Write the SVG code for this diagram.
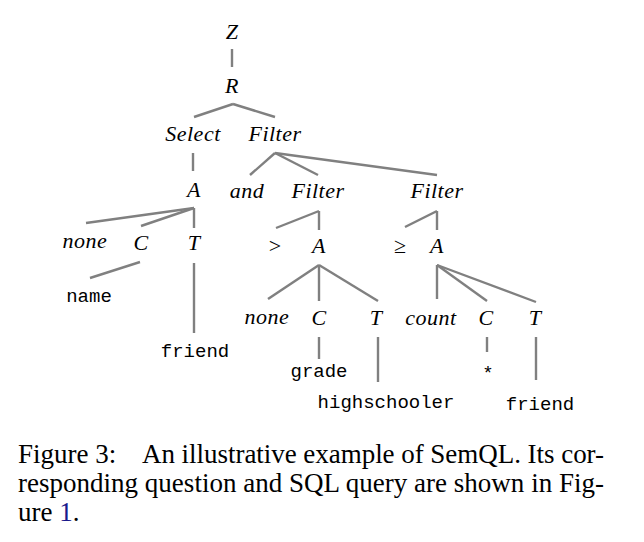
<svg xmlns="http://www.w3.org/2000/svg" width="644" height="542" viewBox="0 0 644 542">
<style>
.n{font-family:"Liberation Serif",serif;font-style:italic;font-size:22px;fill:#000;text-anchor:middle;letter-spacing:0.5px}
.m{font-family:"Liberation Mono",monospace;font-size:19px;fill:#000;text-anchor:middle}
.s{font-family:"Liberation Serif",serif;font-size:22px;fill:#000;text-anchor:middle}
.e line{stroke:#808080;stroke-width:2.4;fill:none}
.cap{font-family:"Liberation Serif",serif;font-size:27px;fill:#000}
</style>
<rect width="644" height="542" fill="#fff"/>
<g class="e" id="connectors">
<line x1="232" y1="49" x2="232" y2="67"/>
<line x1="233" y1="104" x2="194" y2="117"/>
<line x1="233" y1="104" x2="275" y2="117"/>
<line x1="193" y1="153" x2="193" y2="171"/>
<line x1="275" y1="153" x2="250" y2="175"/>
<line x1="275" y1="153" x2="318" y2="175"/>
<line x1="275" y1="153" x2="437" y2="175"/>
<line x1="194" y1="208" x2="86" y2="223"/>
<line x1="194" y1="208" x2="141" y2="226"/>
<line x1="194" y1="208" x2="194" y2="228"/>
<line x1="140" y1="262" x2="90" y2="278"/>
<line x1="194" y1="263" x2="194" y2="333"/>
<line x1="319" y1="211" x2="276" y2="228"/>
<line x1="319" y1="211" x2="319" y2="230"/>
<line x1="319" y1="265" x2="268" y2="299"/>
<line x1="319" y1="265" x2="319" y2="301"/>
<line x1="319" y1="265" x2="378" y2="301"/>
<line x1="319" y1="337" x2="319" y2="359"/>
<line x1="378" y1="337" x2="378" y2="382"/>
<line x1="437" y1="211" x2="405" y2="227"/>
<line x1="437" y1="211" x2="437" y2="230"/>
<line x1="437" y1="265" x2="437" y2="299"/>
<line x1="437" y1="265" x2="487" y2="301"/>
<line x1="437" y1="265" x2="536" y2="302"/>
<line x1="487" y1="337" x2="487" y2="352"/>
<line x1="536" y1="337" x2="536" y2="380"/>
</g>
<g id="Z"><text class="n" x="232" y="39">Z</text></g>
<g id="R"><text class="n" x="232" y="93">R</text></g>
<g id="Select"><text class="n" x="193" y="141">Select</text></g>
<g id="Filter1"><text class="n" x="275" y="141">Filter</text></g>
<g id="A1"><text class="n" x="194" y="197">A</text></g>
<g id="and"><text class="n" x="247" y="198">and</text></g>
<g id="Filter2"><text class="n" x="318" y="198">Filter</text></g>
<g id="Filter3"><text class="n" x="437" y="198">Filter</text></g>
<g id="none1"><text class="n" x="85" y="248">none</text></g>
<g id="C1"><text class="n" x="141" y="250">C</text></g>
<g id="T1"><text class="n" x="194" y="250">T</text></g>
<g id="name"><text class="m" x="89" y="302">name</text></g>
<g id="friend1"><text class="m" x="195" y="357">friend</text></g>
<g id="gt"><text class="s" x="275" y="253">&gt;</text></g>
<g id="A2"><text class="n" x="319" y="253">A</text></g>
<g id="ge"><text class="s" x="400" y="253">≥</text></g>
<g id="A3"><text class="n" x="437" y="253">A</text></g>
<g id="none2"><text class="n" x="267" y="324">none</text></g>
<g id="C2"><text class="n" x="319" y="325">C</text></g>
<g id="T2"><text class="n" x="376" y="325">T</text></g>
<g id="count"><text class="n" x="431" y="325">count</text></g>
<g id="C3"><text class="n" x="486" y="325">C</text></g>
<g id="T3"><text class="n" x="535" y="325">T</text></g>
<g id="grade"><text class="m" x="319" y="377">grade</text></g>
<g id="highschooler"><text class="m" x="386" y="408">highschooler</text></g>
<g id="star"><text class="m" x="488" y="379">*</text></g>
<g id="friend2"><text class="m" x="540" y="410">friend</text></g>
<g id="caption">
<text class="cap" x="18" y="463">Figure 3:</text>
<text class="cap" x="142" y="463" textLength="462" lengthAdjust="spacing">An illustrative example of SemQL. Its cor-</text>
<text class="cap" x="18" y="492" textLength="586" lengthAdjust="spacing">responding question and SQL query are shown in Fig-</text>
<text class="cap" x="18" y="521">ure <tspan fill="#1a1a8c">1</tspan>.</text>
</g>
</svg>
